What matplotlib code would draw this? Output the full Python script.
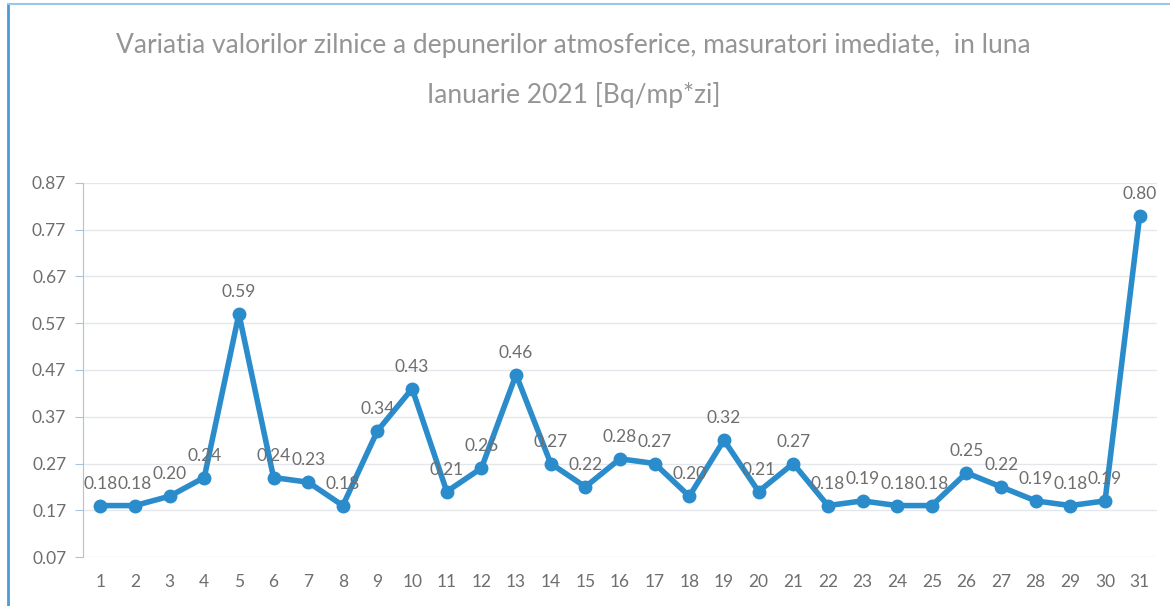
import matplotlib
matplotlib.use("Agg")
import matplotlib.pyplot as plt
from matplotlib.lines import Line2D

plt.rcParams['font.family'] = ['Lato', 'DejaVu Sans']

days = list(range(1, 32))
values = [0.18, 0.18, 0.20, 0.24, 0.59, 0.24, 0.23, 0.18, 0.34, 0.43,
          0.21, 0.26, 0.46, 0.27, 0.22, 0.28, 0.27, 0.20, 0.32, 0.21,
          0.27, 0.18, 0.19, 0.18, 0.18, 0.25, 0.22, 0.19, 0.18, 0.19, 0.80]
yticks = [0.07, 0.17, 0.27, 0.37, 0.47, 0.57, 0.67, 0.77, 0.87]
title = ("Variatia valorilor zilnice a depunerilor atmosferice, masuratori imediate,  in luna\n"
         "Ianuarie 2021 [Bq/mp*zi]")

line_color = '#2b8ccc'
text_color = '#6e6e6e'

fig = plt.figure(figsize=(11.70, 6.06), dpi=100)
ax = fig.add_axes([83 / 1170, 1 - 557 / 606, (1157 - 83) / 1170, (557 - 183) / 606])

ax.plot(days, values, color=line_color, linewidth=4, marker='o', markersize=9,
        solid_joinstyle='round', zorder=3)
for d, v in zip(days, values):
    ax.annotate(f"{v:.2f}", (d, v), xytext=(0, 10), textcoords='offset points',
                ha='center', va='bottom', fontsize=12.5, color=text_color)

ax.set_xlim(0.5, 31.5)
ax.set_ylim(0.07, 0.87)
ax.set_yticks(yticks)
ax.set_yticklabels([f"{t:.2f}" for t in yticks])
ax.set_xticks(days)
ax.grid(axis='y', color='#e3e6ea', linewidth=1)
ax.set_axisbelow(True)
for s in ['top', 'right', 'bottom']:
    ax.spines[s].set_visible(False)
ax.spines['left'].set_color('#a9c4dc')
ax.tick_params(axis='y', colors='#a9c4dc', labelcolor=text_color, labelsize=12.5, length=6, pad=6)
ax.tick_params(axis='x', length=0, labelcolor=text_color, labelsize=12.5, pad=12)

fig.text(0.49, 0.945, title, ha='center', va='top', fontsize=19, color='#959595',
         linespacing=2.15)

# scan frame edges
fig.add_artist(Line2D([8 / 1170, 8 / 1170], [0, 1 - 4 / 606], color='#4a9bd6', linewidth=2))
fig.add_artist(Line2D([8 / 1170, 1], [1 - 4 / 606, 1 - 4 / 606], color='#9ac6ea', linewidth=1.5))

fig.savefig('out.png', dpi=100)
